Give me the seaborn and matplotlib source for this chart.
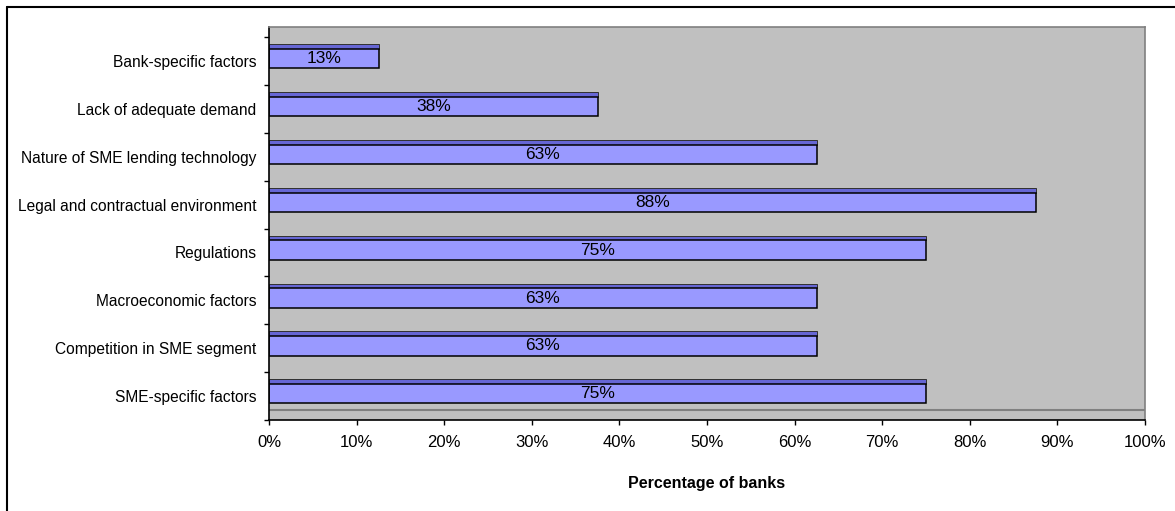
import numpy as np
import pandas as pd
import matplotlib
matplotlib.use('Agg')
import matplotlib.pyplot as plt
import seaborn as sns
from matplotlib.lines import Line2D
from matplotlib.ticker import PercentFormatter

# Survey data: share of banks naming each factor
factors = ['Bank-specific factors', 'Lack of adequate demand',
           'Nature of SME lending technology', 'Legal and contractual environment',
           'Regulations', 'Macroeconomic factors',
           'Competition in SME segment', 'SME-specific factors']
share = [12.5, 37.5, 62.5, 87.5, 75.0, 62.5, 62.5, 75.0]
value_labels = ['13%', '38%', '63%', '88%', '75%', '63%', '63%', '75%']
x_ticks = [0, 10, 20, 30, 40, 50, 60, 70, 80, 90, 100]

df = pd.DataFrame({'factor': factors, 'share': share})
n = len(factors)

sns.set_style('white')
plt.rcParams['font.family'] = ['Liberation Sans', 'DejaVu Sans']
plt.rcParams['text.color'] = 'black'
plt.rcParams['axes.labelcolor'] = 'black'
plt.rcParams['xtick.color'] = 'black'
plt.rcParams['ytick.color'] = 'black'

W, H = 1175, 511
fig = plt.figure(figsize=(W / 100, H / 100), dpi=100)
ax = fig.add_axes([269 / W, 1 - 420 / H, 876 / W, 393 / H])
ax.set_facecolor('#c0c0c0')

depth = 0.21      # fake 3d depth of the excel style chart
front_w = 0.404   # thickness of the bar front face
front_off = 0.048 # front face sits a little above the category centre
top_w = 0.10      # thickness of the darker top face

# darker top face of each bar
sns.barplot(data=df, y='factor', x='share', order=factors, orient='h',
            width=top_w, color='#6666d4', saturation=1,
            edgecolor='#303030', linewidth=0.7, ax=ax)
for p in ax.patches[:n]:
    p.set_y(p.get_y() - front_off - front_w / 2 - top_w / 2)

# front face
sns.barplot(data=df, y='factor', x='share', order=factors, orient='h',
            width=front_w, color='#9999ff', saturation=1,
            edgecolor='black', linewidth=1.1, ax=ax)
for p in ax.patches[n:]:
    p.set_y(p.get_y() - front_off)

ax.bar_label(ax.containers[1], labels=value_labels, label_type='center',
             fontsize=12.5, color='black')

# floor edge
ax.axhline(n - 0.5 - depth, color='#808080', lw=1.5, zorder=0.5)

ax.set_ylim(n - 0.5, -0.5 - depth)
ax.set_xlim(0, 100)

ax.set_yticks(range(n))
ax.set_yticklabels(factors, fontsize=11.2)
ax.set_yticks(np.arange(n + 1) - 0.5, minor=True)
ax.tick_params(axis='y', which='major', length=0, pad=9)
ax.tick_params(axis='y', which='minor', length=3.5, width=1, color='black', direction='out', left=True)

ax.set_xticks(x_ticks)
ax.xaxis.set_major_formatter(PercentFormatter(decimals=0))
ax.tick_params(axis='x', length=3.5, width=1, color='black', direction='out',
               bottom=True, labelsize=12, pad=7)

ax.set_ylabel('')
ax.set_xlabel('Percentage of banks', fontsize=11.5, fontweight='bold', labelpad=19)

for side in ['left', 'bottom']:
    ax.spines[side].set_color('black')
    ax.spines[side].set_linewidth(1.2)
for side in ['top', 'right']:
    ax.spines[side].set_color('#808080')
    ax.spines[side].set_linewidth(1.2)

# outer chart frame (only top and left edges are visible)
fig.add_artist(Line2D([7 / W, 7 / W], [0, 1 - 7 / H], color='black', lw=1.5))
fig.add_artist(Line2D([7 / W, 1], [1 - 7 / H, 1 - 7 / H], color='black', lw=1.5))

fig.savefig('out.png', dpi=100)
